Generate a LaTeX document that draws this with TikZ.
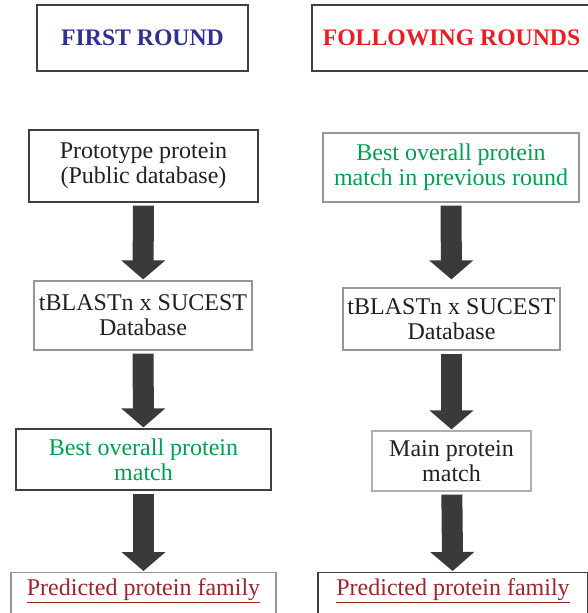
\documentclass[tikz,border=0pt]{standalone}
\usepackage{fontspec}
\setmainfont{Liberation Serif}
\usetikzlibrary{arrows.meta,positioning}
\definecolor{roundblue}{RGB}{46,49,146}
\definecolor{roundred}{RGB}{237,28,36}
\definecolor{matchgreen}{RGB}{0,160,80}
\definecolor{famred}{RGB}{158,35,45}
\definecolor{textblack}{RGB}{35,31,32}
\definecolor{edgedark}{RGB}{64,64,64}
\definecolor{edgegray}{RGB}{150,150,150}
\definecolor{edgelight}{RGB}{175,175,175}
\definecolor{arrowgray}{RGB}{58,58,60}

\begin{document}
\begin{tikzpicture}[x=1pt,y=-1pt,
    base box/.style={draw=edgegray,line width=1.2pt,align=center,inner sep=0pt,
      font=\fontsize{24}{25}\selectfont,text=textblack},
    dark box/.style={base box,draw=edgedark},
    title box/.style={dark box,line width=1.3pt,minimum height=66pt,
      font=\fontsize{23.7}{25}\selectfont\bfseries},
    fam box/.style={anchor=north,inner ysep=3pt,text height=20pt,text depth=40pt,text=famred},
    fat arrow/.style={draw=arrowgray,line width=21pt,-{Triangle[length=19pt,width=43pt]},
      shorten <=3pt,shorten >=1pt}]
\useasboundingbox (0,0) rectangle (588,613);

% headers
\node[title box,minimum width=211pt,text=roundblue] (first) at (142.5,38) {FIRST ROUND};
\node[title box,minimum width=279pt,text=roundred]  (next)  at (451.5,38) {FOLLOWING ROUNDS};

% first round
\node[dark box,minimum width=229pt,minimum height=72pt] (protoA) at (143.5,166) {Prototype protein\\(Public database)};
\node[base box,minimum width=218pt,minimum height=69pt] (blastA) at (143,315.5) {tBLASTn x SUCEST\\Database};
\node[dark box,minimum width=255pt,minimum height=61pt,text=matchgreen] (bestA) at (143.5,459.5) {Best overall protein\\match};
\node[base box,fam box,minimum width=265pt] (famA) at (143.5,572) {\underline{Predicted protein family}};

% following rounds
\node[base box,minimum width=256pt,minimum height=69pt,text=matchgreen] (bestB) at (451,167.5) {Best overall protein\\match in previous round};
\node[base box,minimum width=217pt,minimum height=62pt] (blastB) at (451.5,319) {tBLASTn x SUCEST\\Database};
\node[base box,draw=edgelight,minimum width=159pt,minimum height=60pt] (mainB) at (451.5,461) {Main protein\\match};
\node[dark box,fam box,minimum width=270pt] (famB) at (453,572) {\underline{Predicted protein family}};

\path (protoA) edge[fat arrow] (blastA)
      (blastA) edge[fat arrow] (bestA)
      (bestA)  edge[fat arrow] (famA);
\path (bestB)  edge[fat arrow,shorten >=8pt] (blastB)
      (blastB) edge[fat arrow] (mainB)
      (mainB)  edge[fat arrow] (famB);
\end{tikzpicture}
\end{document}
